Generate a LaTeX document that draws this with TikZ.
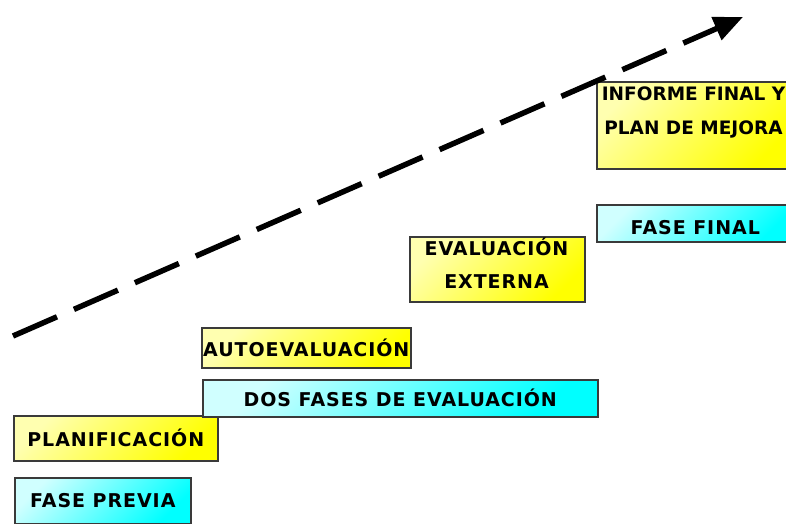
\documentclass[tikz,border=0pt]{standalone}
\usepackage{fontspec}
\setmainfont{DejaVu Sans}
\newfontfamily\boxfont[LetterSpace=5]{DejaVu Sans}
\newfontfamily\boxfontn{DejaVu Sans}
\usetikzlibrary{arrows.meta}
\definecolor{ylight}{HTML}{FFFFB0}
\definecolor{ydeep}{HTML}{FFFF00}
\definecolor{clight}{HTML}{D0FFFF}
\definecolor{cdeep}{HTML}{00FFFF}
\definecolor{edge}{HTML}{3A3A3A}
\tikzset{
  basebox/.style={draw=edge, line width=1.6pt, rectangle, inner sep=0pt, anchor=north west,
    font=\boxfont\bfseries\fontsize{19}{33}\selectfont, align=center},
  ybox/.style={basebox, top color=ylight, bottom color=ydeep, shading angle=45},
  cbox/.style={basebox, top color=clight, bottom color=cdeep, shading angle=45},
  boxtext/.style={inner sep=0pt, align=center, font=\boxfont\bfseries\fontsize{19}{33}\selectfont},
  arrowline/.style={line width=5.5pt, dash pattern=on 48pt off 18.5pt,
    -{Triangle[length=29pt,width=24pt]}}
}
\begin{document}
\begin{tikzpicture}[x=1pt,y=-1pt]
\clip (0,0) rectangle (786,523);
\fill[white] (0,0) rectangle (786,523);
% boxes
\node[cbox, minimum width=176pt, minimum height=46pt] (prev) at (14,477) {FASE PREVIA};
\node[ybox, minimum width=204pt, minimum height=45pt] (plan) at (13,415) {PLANIFICACIÓN};
\node[cbox, minimum width=395pt, minimum height=37pt] (dos) at (202,379) {DOS FASES DE EVALUACIÓN};
\node[ybox, minimum width=209pt, minimum height=40pt] (auto) at (201,327) {AUTOEVALUACIÓN};
\node[ybox, minimum width=175pt, minimum height=65pt] (ext) at (409,236) {};
\node[boxtext, anchor=center] (exttxt) at (496.5,263.5) {EVALUACIÓN\\EXTERNA};
\node[cbox, minimum width=197pt, minimum height=37pt, text height=22pt, text depth=0pt] (fin) at (596,204) {FASE FINAL};
\node[ybox, minimum width=196pt, minimum height=87pt] (inf) at (596,81) {};
\node[boxtext, anchor=north, font=\boxfontn\bfseries\fontsize{18.5}{34}\selectfont] (inftxt) at (693.5,86.2) {INFORME FINAL Y\\PLAN DE MEJORA};
% arrow
\coordinate (as) at (13,336);
\coordinate (ae) at (743,17);
\draw[arrowline] (as) -- (ae);
\end{tikzpicture}
\end{document}
